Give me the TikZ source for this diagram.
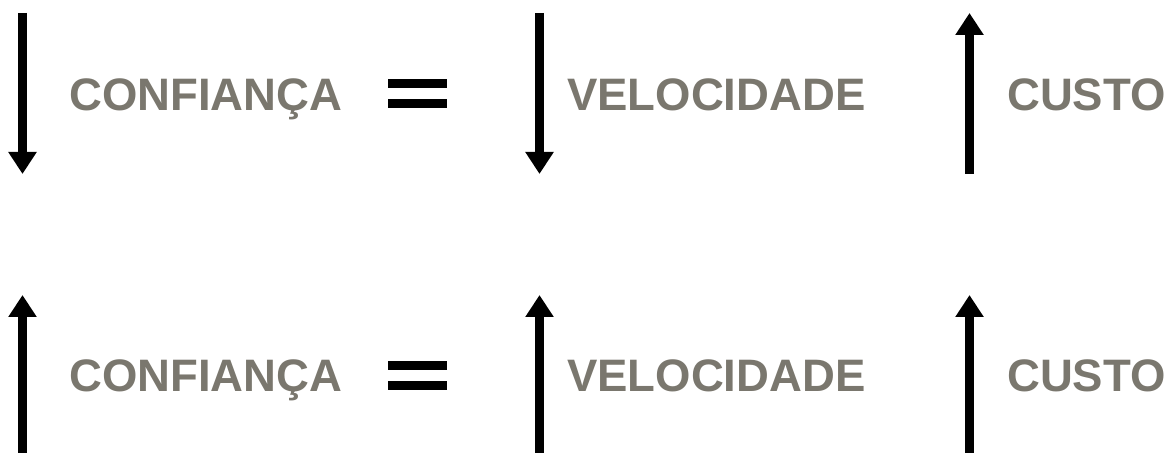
\documentclass[tikz,border=0pt]{standalone}
\usepackage{fontspec}
\setmainfont{Liberation Sans}
\usetikzlibrary{arrows.meta}
\definecolor{txtgray}{HTML}{7A776E}
\begin{document}
\begin{tikzpicture}[x=1pt,y=1pt,
  word/.style={anchor=base west,inner sep=0pt,text=txtgray,font=\fontsize{45.5}{50}\selectfont\bfseries},
  arr/.style={line width=9pt,-{Triangle[width=27pt,length=22pt]}},
  eqbar/.style={fill=black}]
\useasboundingbox (0,0) rectangle (1174,452);
% top row
\coordinate (a1s) at (22.5,439);  \coordinate (a1e) at (22.5,278);
\coordinate (a2s) at (539.5,439); \coordinate (a2e) at (539.5,278);
\coordinate (a3s) at (969.5,278); \coordinate (a3e) at (969.5,439);
\draw[arr] (a1s) -- (a1e);
\draw[arr] (a2s) -- (a2e);
\draw[arr] (a3s) -- (a3e);
\node[word] (c1) at (69,341) {CONFIANÇA};
\node[word] (v1) at (567,341) {VELOCIDADE};
\node[word] (k1) at (1007,341) {CUSTO};
\fill[eqbar] (388,364) rectangle (447,373);
\fill[eqbar] (388,344) rectangle (447,353);
% bottom row
\coordinate (b1s) at (22.5,-5);  \coordinate (b1e) at (22.5,157);
\coordinate (b2s) at (539.5,-5); \coordinate (b2e) at (539.5,157);
\coordinate (b3s) at (969.5,-5); \coordinate (b3e) at (969.5,157);
\draw[arr] (b1s) -- (b1e);
\draw[arr] (b2s) -- (b2e);
\draw[arr] (b3s) -- (b3e);
\node[word] (c2) at (69,60) {CONFIANÇA};
\node[word] (v2) at (567,60) {VELOCIDADE};
\node[word] (k2) at (1007,60) {CUSTO};
\fill[eqbar] (388,82) rectangle (447,91);
\fill[eqbar] (388,62) rectangle (447,71);
\end{tikzpicture}
\end{document}
